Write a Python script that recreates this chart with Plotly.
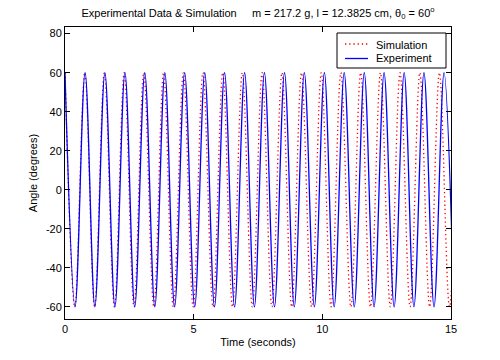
import plotly.graph_objects as go

# Extrema (peak/trough) times, in seconds
exp_t = [0.00, 0.39, 0.78, 1.16, 1.55, 1.94, 2.33, 2.71, 3.10, 3.49,
         3.88, 4.26, 4.65, 5.04, 5.43, 5.81, 6.20, 6.59, 6.98, 7.36,
         7.75, 8.14, 8.53, 8.91, 9.30, 9.69, 10.08, 10.46, 10.85, 11.24,
         11.63, 12.01, 12.40, 12.79, 13.18, 13.56, 13.95, 14.34, 14.73, 15.11]
exp_angle = [60, -60, 60, -60, 60, -60, 60, -60, 60, -60,
             60, -60, 60, -60, 60, -60, 60, -60, 60, -60,
             60, -60, 60, -60, 60, -60, 60, -60, 60, -60,
             60, -60, 60, -60, 60, -60, 60, -60, 60, -60]

sim_t = [0.00, 0.38, 0.77, 1.15, 1.53, 1.92, 2.30, 2.68, 3.06, 3.45,
         3.83, 4.21, 4.60, 4.98, 5.36, 5.75, 6.13, 6.51, 6.89, 7.28,
         7.66, 8.04, 8.43, 8.81, 9.19, 9.58, 9.96, 10.34, 10.72, 11.11,
         11.49, 11.87, 12.26, 12.64, 13.02, 13.41, 13.79, 14.17, 14.55, 14.94, 15.32]
sim_angle = [60, -60, 60, -60, 60, -60, 60, -60, 60, -60,
             60, -60, 60, -60, 60, -60, 60, -60, 60, -60,
             60, -60, 60, -60, 60, -60, 60, -60, 60, -60,
             60, -60, 60, -60, 60, -60, 60, -60, 60, -60, 60]

series_names = ["Simulation", "Experiment"]
x_ticks = [0, 5, 10, 15]
y_ticks = [-60, -40, -20, 0, 20, 40, 60, 80]
y_tick_text = ["-60", "-40", "-20", "0", "20", "40", "60", "80"]

FONT = "Liberation Sans, Arial, Helvetica, sans-serif"
SIM_COLOR = "#ff0000"
EXP_COLOR = "#0000ff"
SIM_DASH = "1.3px,2.9px"

# plot area in pixels (for placing the hand-made legend)
L, R, T, B = 65, 451, 27, 319
W, H = 500, 360


def px(x):
    return (x - L) / (R - L)


def py(y):
    return (B - y) / (B - T)


fig = go.Figure()
fig.add_trace(go.Scatter(
    x=sim_t, y=sim_angle, mode="lines", name=series_names[0], showlegend=False,
    line=dict(color=SIM_COLOR, width=1.3, dash=SIM_DASH, shape="spline", smoothing=1.0),
))
fig.add_trace(go.Scatter(
    x=exp_t, y=exp_angle, mode="lines", name=series_names[1], showlegend=False,
    line=dict(color=EXP_COLOR, width=1.3, shape="spline", smoothing=1.0),
))

axis_common = dict(
    showline=True, linecolor="black", linewidth=1, mirror="ticks",
    ticks="inside", ticklen=5, tickcolor="black", tickwidth=1,
    showgrid=False, zeroline=False, automargin=False,
    tickfont=dict(family=FONT, size=11, color="black"),
)

# legend built from shapes and annotations
shapes = [
    dict(type="rect", xref="paper", yref="paper",
         x0=px(337), x1=px(446), y0=py(68), y1=py(33),
         line=dict(color="black", width=1), fillcolor="white", layer="above"),
    dict(type="line", xref="paper", yref="paper",
         x0=px(345), x1=px(368), y0=py(44), y1=py(44),
         line=dict(color=SIM_COLOR, width=1.3, dash=SIM_DASH), layer="above"),
    dict(type="line", xref="paper", yref="paper",
         x0=px(345), x1=px(368), y0=py(58.5), y1=py(58.5),
         line=dict(color=EXP_COLOR, width=1.3), layer="above"),
]
annotations = [
    dict(text=series_names[0], xref="paper", yref="paper", x=px(374), y=py(45),
         xanchor="left", yanchor="middle", showarrow=False,
         font=dict(family=FONT, size=11, color="black")),
    dict(text=series_names[1], xref="paper", yref="paper", x=px(374), y=py(57.5),
         xanchor="left", yanchor="middle", showarrow=False,
         font=dict(family=FONT, size=11, color="black")),
]

fig.update_layout(
    width=W, height=H,
    margin=dict(l=L, r=W - R, t=T, b=H - B, autoexpand=False),
    paper_bgcolor="white", plot_bgcolor="white",
    font=dict(family=FONT, size=11, color="black"),
    title=dict(
        text="Experimental Data &amp; Simulation\u00a0\u00a0\u00a0\u00a0\u00a0m = 217.2 g, l = 12.3825 cm, θ<sub>0</sub> = 60<sup>o</sup>",
        x=0.5, xref="paper", xanchor="center", y=1 - 13 / H, yanchor="middle",
        font=dict(family=FONT, size=11, color="black"),
    ),
    xaxis=dict(range=[0, 15], tickvals=x_ticks,
               title=dict(text="Time (seconds)", standoff=4, font=dict(family=FONT, size=11)),
               **axis_common),
    yaxis=dict(range=[-66.2, 83.4], tickvals=y_ticks, ticktext=y_tick_text,
               title=dict(text="Angle (degrees)", standoff=6, font=dict(family=FONT, size=11)),
               **axis_common),
    shapes=shapes,
    annotations=annotations,
    showlegend=False,
)

fig.write_html(
    "out.html",
    config={"displayModeBar": False},
    post_script="document.body.style.margin='0';document.body.style.padding='0';",
)
